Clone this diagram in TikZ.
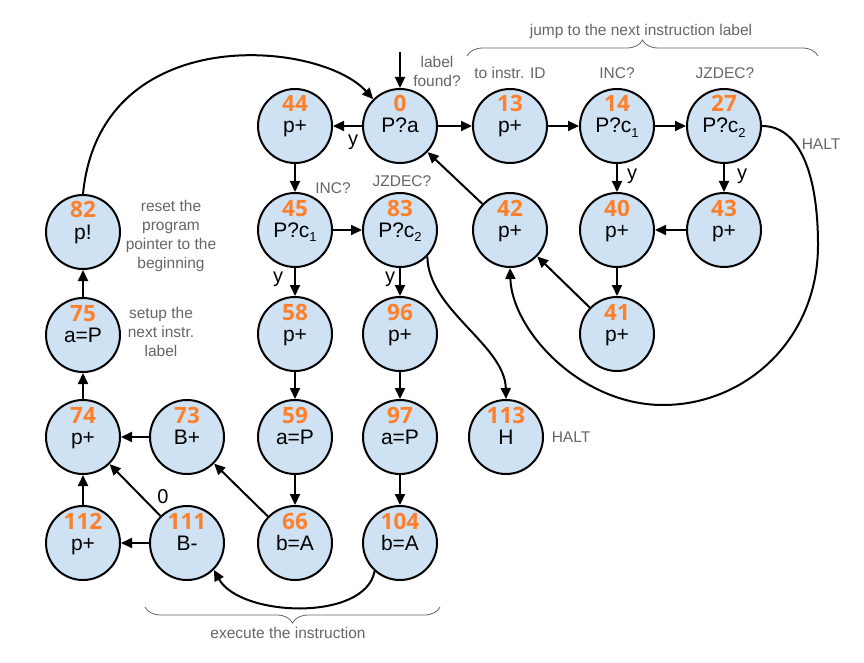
\documentclass[tikz,border=0pt]{standalone}
\usepackage{fontspec}
\setmainfont{Liberation Sans}
\newfontfamily\numfont{Open Sans}
\usetikzlibrary{arrows.meta,decorations.pathreplacing,calc}
\definecolor{nodefill}{HTML}{CFE2F3}
\definecolor{numcol}{HTML}{FF7F2A}
\definecolor{anncol}{HTML}{666666}
\newcommand\mysub[1]{\raisebox{-0.45ex}{\fontsize{13}{13}\selectfont #1}}
\tikzset{
  stc/.style={circle, draw=black, line width=2pt, fill=nodefill, minimum size=74pt, inner sep=0pt},
  numtxt/.style={anchor=base, inner sep=0pt, text=numcol, font=\numfont\bfseries\fontsize{22.5}{22.5}\selectfont},
  lbltxt/.style={anchor=base, inner sep=0pt, font=\fontsize{21}{21}\selectfont},
  arr/.style={line width=2pt, -{Triangle[length=11pt,width=10pt]}},
  ann/.style={text=anncol, align=center, inner sep=0pt, font=\fontsize{15.5}{19}\selectfont},
  elbl/.style={inner sep=0pt, font=\fontsize{20}{20}\selectfont},
  bracestyle/.style={draw=anncol, line width=0.8pt, decorate}
}
\newcommand\stnode[5]{%
  \node[stc] (#1) at (#2,#3) {};
  \node[numtxt] (#1n) at ([yshift=14pt]#1.center) {#4};
  \node[lbltxt] (#1t) at ([yshift=-7pt]#1.center) {#5};
}
\begin{document}
\begin{tikzpicture}[x=1pt,y=-1pt]
\useasboundingbox (0,0) rectangle (864,663);
\fill[white] (0,0) rectangle (864,663);

% states
\stnode{n0}{400}{126}{0}{P?a}
\stnode{n44}{295}{126}{44}{p+}
\stnode{n13}{510}{126}{13}{p+}
\stnode{n14}{617}{126}{14}{P?c\mysub{1}}
\stnode{n27}{724}{126}{27}{P?c\mysub{2}}
\stnode{n45}{295}{230}{45}{P?c\mysub{1}}
\stnode{n83}{400}{230}{83}{P?c\mysub{2}}
\stnode{n42}{510}{230}{42}{p+}
\stnode{n40}{617}{230}{40}{p+}
\stnode{n43}{724}{230}{43}{p+}
\stnode{n82}{83}{232}{82}{p!}
\stnode{n41}{617}{334}{41}{p+}
\stnode{n58}{295}{334}{58}{p+}
\stnode{n96}{400}{334}{96}{p+}
\stnode{n75}{83}{335}{75}{a=P}
\stnode{n74}{83}{437}{74}{p+}
\stnode{n73}{187}{437}{73}{B+}
\stnode{n59}{295}{437}{59}{a=P}
\stnode{n97}{400}{437}{97}{a=P}
\stnode{n113}{506}{437}{113}{H}
\stnode{n112}{83}{543}{112}{p+}
\stnode{n111}{187}{543}{111}{B-}
\stnode{n66}{295}{543}{66}{b=A}
\stnode{n104}{400}{543}{104}{b=A}

% entry
\coordinate (start) at (400,52);
\draw[arr] (start) -- (n0.north);

% straight connectors
\draw[arr] (n0) -- (n44);
\draw[arr] (n0) -- (n13);
\draw[arr] (n13) -- (n14);
\draw[arr] (n14) -- (n27);
\draw[arr] (n14) -- (n40);
\draw[arr] (n27) -- (n43);
\draw[arr] (n43) -- (n40);
\draw[arr] (n40) -- (n41);
\draw[arr] (n41) -- (n42);
\draw[arr] (n42) -- (n0);
\draw[arr] (n44) -- (n45);
\draw[arr] (n45) -- (n83);
\draw[arr] (n45) -- (n58);
\draw[arr] (n83) -- (n96);
\draw[arr] (n58) -- (n59);
\draw[arr] (n59) -- (n66);
\draw[arr] (n96) -- (n97);
\draw[arr] (n97) -- (n104);
\draw[arr] (n66) -- (n73);
\draw[arr] (n73) -- (n74);
\draw[arr] (n111) -- (n74);
\draw[arr] (n111) -- (n112);
\draw[arr] (n112) -- (n74);
\draw[arr] (n74) -- (n75);
\draw[arr] (n75) -- (n82);

% curved connectors
\draw[arr] (n82.north) .. controls (100,20) and (320,40) .. (n0.135);
\draw[arr] (n27.east) .. controls (800,126) and (818,175) .. (818,245)
  .. controls (818,340) and (745,405) .. (663,405)
  .. controls (580,405) and (512,330) .. (n42.south);
\draw[arr] (n83.-44) .. controls (428,310) and (505,345) .. (n113.north);
\draw[arr] (n104.-132) .. controls (365,622) and (240,617) .. (n111.-45);

% edge labels
\node[elbl] (y0) at (353,142) {y};
\node[elbl] (y14) at (632,176) {y};
\node[elbl] (y27) at (742,176) {y};
\node[elbl] (y45) at (278,279) {y};
\node[elbl] (y83) at (390,279) {y};
\node[elbl] (z111) at (163,497) {0};

% annotations
\node[ann] (a0) at (437,71) {label\\found?};
\node[ann] (a13) at (510,73) {to instr. ID};
\node[ann] (a14) at (617,73) {INC?};
\node[ann] (a27) at (725,73) {JZDEC?};
\node[ann] (ajump) at (641,31) {jump to the next instruction label};
\node[ann] (ahalt1) at (821,144) {HALT};
\node[ann] (a45) at (333,188) {INC?};
\node[ann] (a83) at (402,181) {JZDEC?};
\node[ann] (a82) at (171,236) {reset the\\program\\pointer to the\\beginning};
\node[ann] (a75) at (161,332) {setup the\\next instr.\\label};
\node[ann] (ahalt2) at (571,437) {HALT};
\node[ann] (aexec) at (288,633) {execute the instruction};

% braces
\coordinate (b1l) at (467,56);
\coordinate (b1r) at (818,56);
\draw[bracestyle, decoration={brace, amplitude=16pt}] (b1l) -- (b1r);
\coordinate (b2l) at (145,607);
\coordinate (b2r) at (440,607);
\draw[bracestyle, decoration={brace, mirror, amplitude=16pt}] (b2l) -- (b2r);
\end{tikzpicture}
\end{document}
